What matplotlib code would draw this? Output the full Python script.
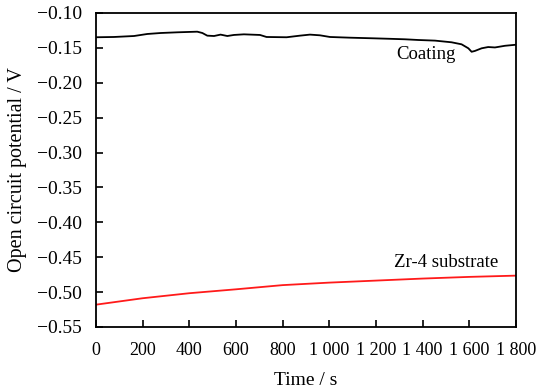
import matplotlib
matplotlib.use("Agg")
import matplotlib.pyplot as plt
from matplotlib.ticker import FuncFormatter

plt.rcParams['font.family'] = ['Liberation Serif', 'DejaVu Serif']

coating_t = [0, 77, 163, 220, 277, 349, 434, 456, 477, 506, 534, 563, 591, 634,
             703, 731, 817, 874, 917, 960, 1003, 1089, 1189, 1260, 1324, 1381,
             1453, 1524, 1567, 1596, 1610, 1624, 1653, 1681, 1710, 1753, 1800]
coating_v = [-0.1348, -0.1344, -0.1330, -0.1301, -0.1287, -0.1277, -0.1268,
             -0.1287, -0.1325, -0.1330, -0.1310, -0.1330, -0.1315, -0.1306,
             -0.1315, -0.1344, -0.1348, -0.1325, -0.1310, -0.1320, -0.1344,
             -0.1354, -0.1363, -0.1370, -0.1377, -0.1387, -0.1396, -0.1420,
             -0.1449, -0.1506, -0.1556, -0.1544, -0.1506, -0.1488, -0.1494,
             -0.1470, -0.1455]

zr_t = [0, 200, 400, 600, 800, 1000, 1200, 1400, 1600, 1800]
zr_v = [-0.518, -0.5088, -0.5016, -0.4960, -0.4900, -0.4864, -0.4835,
        -0.4806, -0.4782, -0.4764]

x_ticks = [0, 200, 400, 600, 800, 1000, 1200, 1400, 1600, 1800]
y_ticks = [-0.55, -0.50, -0.45, -0.40, -0.35, -0.30, -0.25, -0.20, -0.15, -0.10]

fig = plt.figure(figsize=(5.38, 3.91), dpi=100)
ax = fig.add_axes([0.1784, 0.1637, 0.959 - 0.1784, 0.9668 - 0.1637])

ax.plot(coating_t, coating_v, color='black', lw=1.3)
ax.plot(zr_t, zr_v, color='#ff1a1a', lw=1.3)

ax.set_xlim(0, 1800)
ax.set_ylim(-0.55, -0.10)
ax.set_xticks(x_ticks)
ax.set_yticks(y_ticks)
ax.xaxis.set_major_formatter(FuncFormatter(lambda v, p: f"{int(v):,}".replace(",", " ")))
ax.yaxis.set_major_formatter(FuncFormatter(lambda v, p: f"{v:.2f}".replace("-", "\u2212")))
ax.tick_params(direction='in', length=5, width=1.2, top=False, right=False)
ax.tick_params(axis='x', pad=11, labelsize=13)
ax.tick_params(axis='y', pad=10, labelsize=14)
for s in ax.spines.values():
    s.set_linewidth(1.3)

ax.set_xlabel("Time / s", fontsize=14, labelpad=9)
ax.set_ylabel("Open circuit potential / V", fontsize=14.5, labelpad=7)

ax.text(1543, -0.160, "Coating", fontsize=13.5, ha='right', va='center')
ax.text(1723, -0.457, "Zr-4 substrate", fontsize=13.5, ha='right', va='center')

fig.savefig("out.png", dpi=100)
